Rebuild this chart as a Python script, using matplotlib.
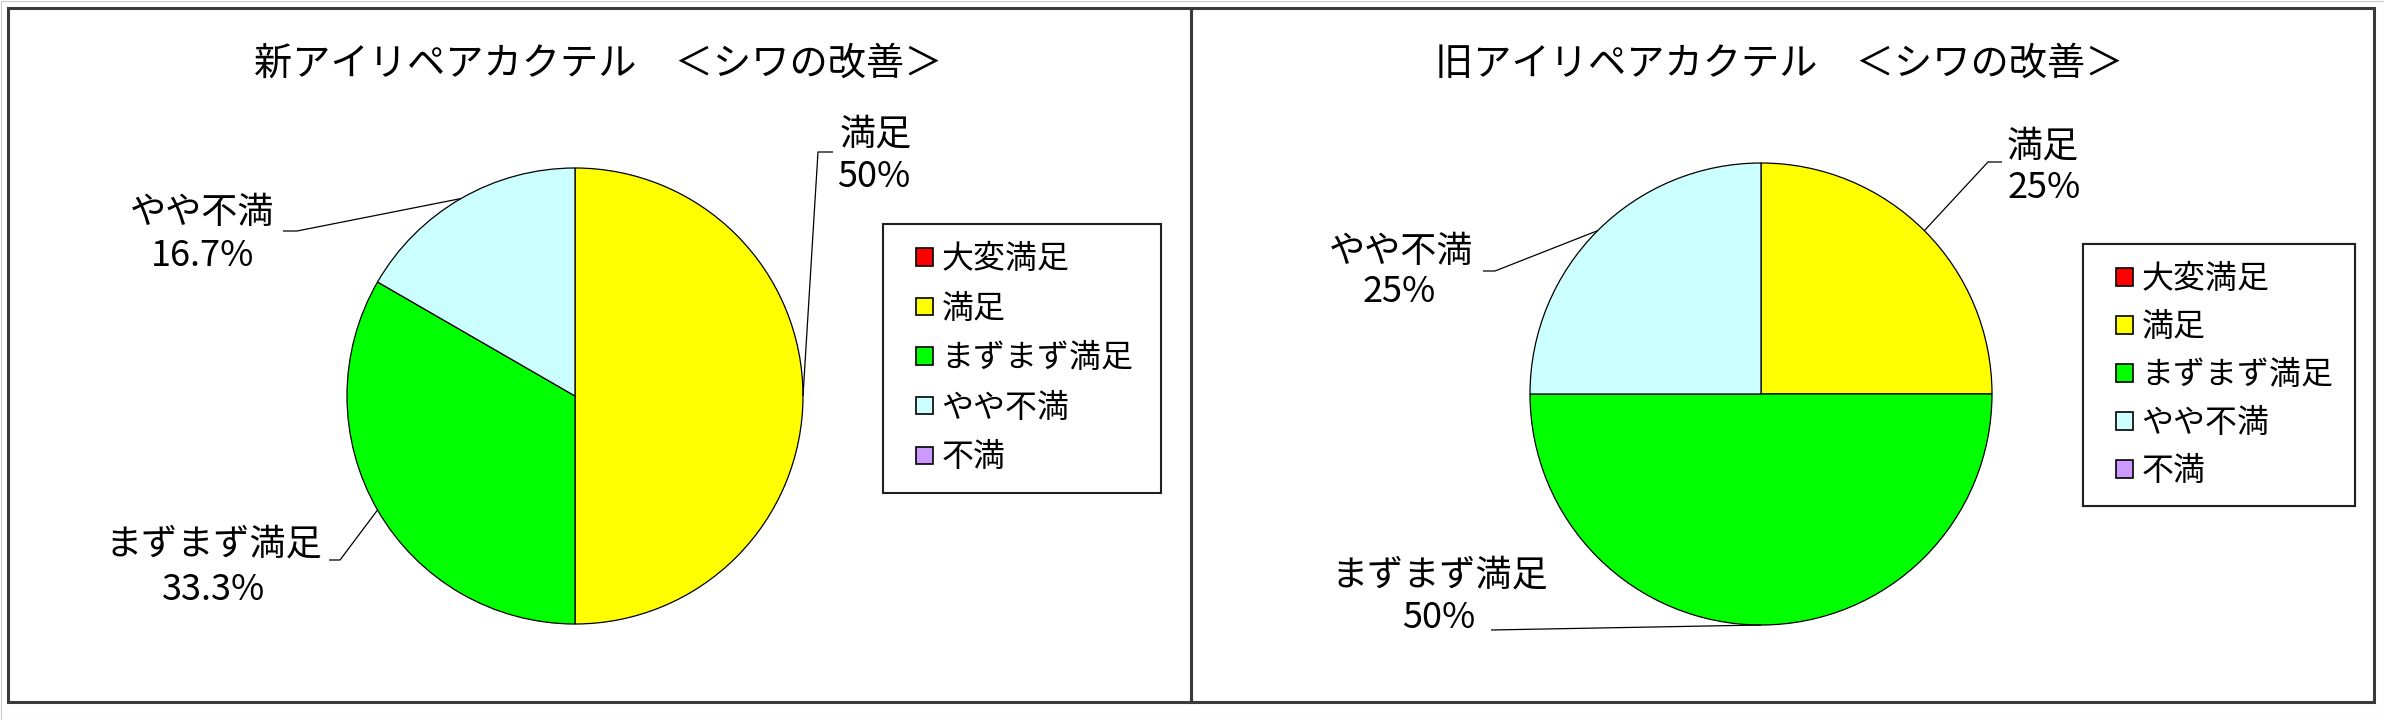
import matplotlib
matplotlib.use("Agg")
import matplotlib.pyplot as plt
from matplotlib.patches import Rectangle, Patch
from matplotlib.legend_handler import HandlerPatch
import numpy as np

plt.rcParams['font.family'] = ['Noto Sans CJK JP', 'DejaVu Sans']

# ---------------- data ----------------
categories = ["大変満足", "満足", "まずまず満足", "やや不満", "不満"]
colors = ["#FF0000", "#FFFF00", "#00FF00", "#CCFFFF", "#CC99FF"]
new_values = [0, 3, 2, 1, 0]   # 新アイリペアカクテル
old_values = [0, 1, 2, 1, 0]   # 旧アイリペアカクテル
titles = ["新アイリペアカクテル　＜シワの改善＞", "旧アイリペアカクテル　＜シワの改善＞"]

W, H = 2384, 720
fig = plt.figure(figsize=(W / 100, H / 100), dpi=100)
ax = fig.add_axes([0, 0, 1, 1])


def Y(py):
    return H - py


def pct(v, total):
    s = f"{100 * v / total:.1f}".rstrip('0').rstrip('.')
    return s + "%"


# layout (pixel positions in the picture)
panels = [
    dict(box=(8, 8, 1191, 702), center=(575, 396), r=228, title_xy=(598, 64),
         legend=(883, 224, 278, 263), rowsp=0.55,
         labels={
             "満足": dict(l1=(876, 135), l2=(874, 177), leader=[(833, 152), (818, 152)]),
             "まずまず満足": dict(l1=(214, 545), l2=(214, 590), leader=[(329, 560), (340, 560)]),
             "やや不満": dict(l1=(202, 213), l2=(203, 256), leader=[(283, 231), (297, 231)]),
         }),
    dict(box=(1191, 8, 2374, 702), center=(1761, 394), r=231, title_xy=(1779, 64),
         legend=(2083, 244, 272, 251), rowsp=0.5,
         labels={
             "満足": dict(l1=(2043, 147), l2=(2044, 188), leader=[(2002, 162), (1988, 162)]),
             "まずまず満足": dict(l1=(1440, 576), l2=(1439, 618), leader=[(1491, 630)]),
             "やや不満": dict(l1=(1401, 252), l2=(1399, 292), leader=[(1483, 271), (1495, 271)]),
         }),
]


def square_handle(legend, orig_handle, xdescent, ydescent, width, height, fontsize):
    s = 12.5
    return Rectangle((-xdescent + width - s, -ydescent + (height - s) / 2), s, s)


for panel, values, title in zip(panels, [new_values, old_values], titles):
    total = sum(values)
    idx = [i for i, v in enumerate(values) if v > 0]
    cx, cy = panel["center"]
    r = panel["r"]
    wedges, _ = ax.pie([values[i] for i in idx], colors=[colors[i] for i in idx],
                       startangle=90, counterclock=False, center=(cx, Y(cy)), radius=r,
                       wedgeprops=dict(edgecolor="black", linewidth=0.9), frame=True)
    for w, i in zip(wedges, idx):
        cat = categories[i]
        lab = panel["labels"][cat]
        mid = np.deg2rad((w.theta1 + w.theta2) / 2)
        ax_pt = (cx + r * np.cos(mid), Y(cy) + r * np.sin(mid))
        pts = [(x, Y(y)) for x, y in lab["leader"]] + [ax_pt]
        ax.plot([p[0] for p in pts], [p[1] for p in pts], color="black", lw=0.9,
                solid_capstyle="butt")
        ax.text(lab["l1"][0], Y(lab["l1"][1]), cat, ha="center", va="center",
                fontsize=26, color="black")
        ax.text(lab["l2"][0], Y(lab["l2"][1]), pct(values[i], total), ha="center",
                va="center", fontsize=26, color="black")

    ax.text(panel["title_xy"][0], Y(panel["title_xy"][1]), title, ha="center",
            va="center", fontsize=27.5, color="black")

    x0, y0, x1, y1 = panel["box"]
    ax.add_patch(Rectangle((x0, Y(y1)), x1 - x0, y1 - y0, fill=False,
                           edgecolor="#3a3a3a", lw=2.2, zorder=5))

    lx, ly, lw_, lh = panel["legend"]
    handles = [Patch(facecolor=c, edgecolor="black", linewidth=1.2) for c in colors]
    leg = ax.legend(handles, categories, loc="upper left",
                    bbox_to_anchor=(lx, Y(ly) - lh, lw_, lh),
                    bbox_transform=ax.transData, mode="expand", borderaxespad=0,
                    fontsize=23, frameon=True, fancybox=False, framealpha=1,
                    edgecolor="#202020", borderpad=0.6, labelspacing=panel["rowsp"],
                    handlelength=0.98, handleheight=0.7, handletextpad=0.25,
                    handler_map={Patch: HandlerPatch(patch_func=square_handle)})
    leg.get_frame().set_linewidth(1.5)
    ax.add_artist(leg)

ax.add_patch(Rectangle((0.5, 0.5), W - 1, H - 1, fill=False, edgecolor="#c8c8c8", lw=0.8))

ax.set_xlim(0, W)
ax.set_ylim(0, H)
ax.set_aspect("auto")
ax.axis("off")

fig.savefig("out.png", dpi=100, facecolor="white")
